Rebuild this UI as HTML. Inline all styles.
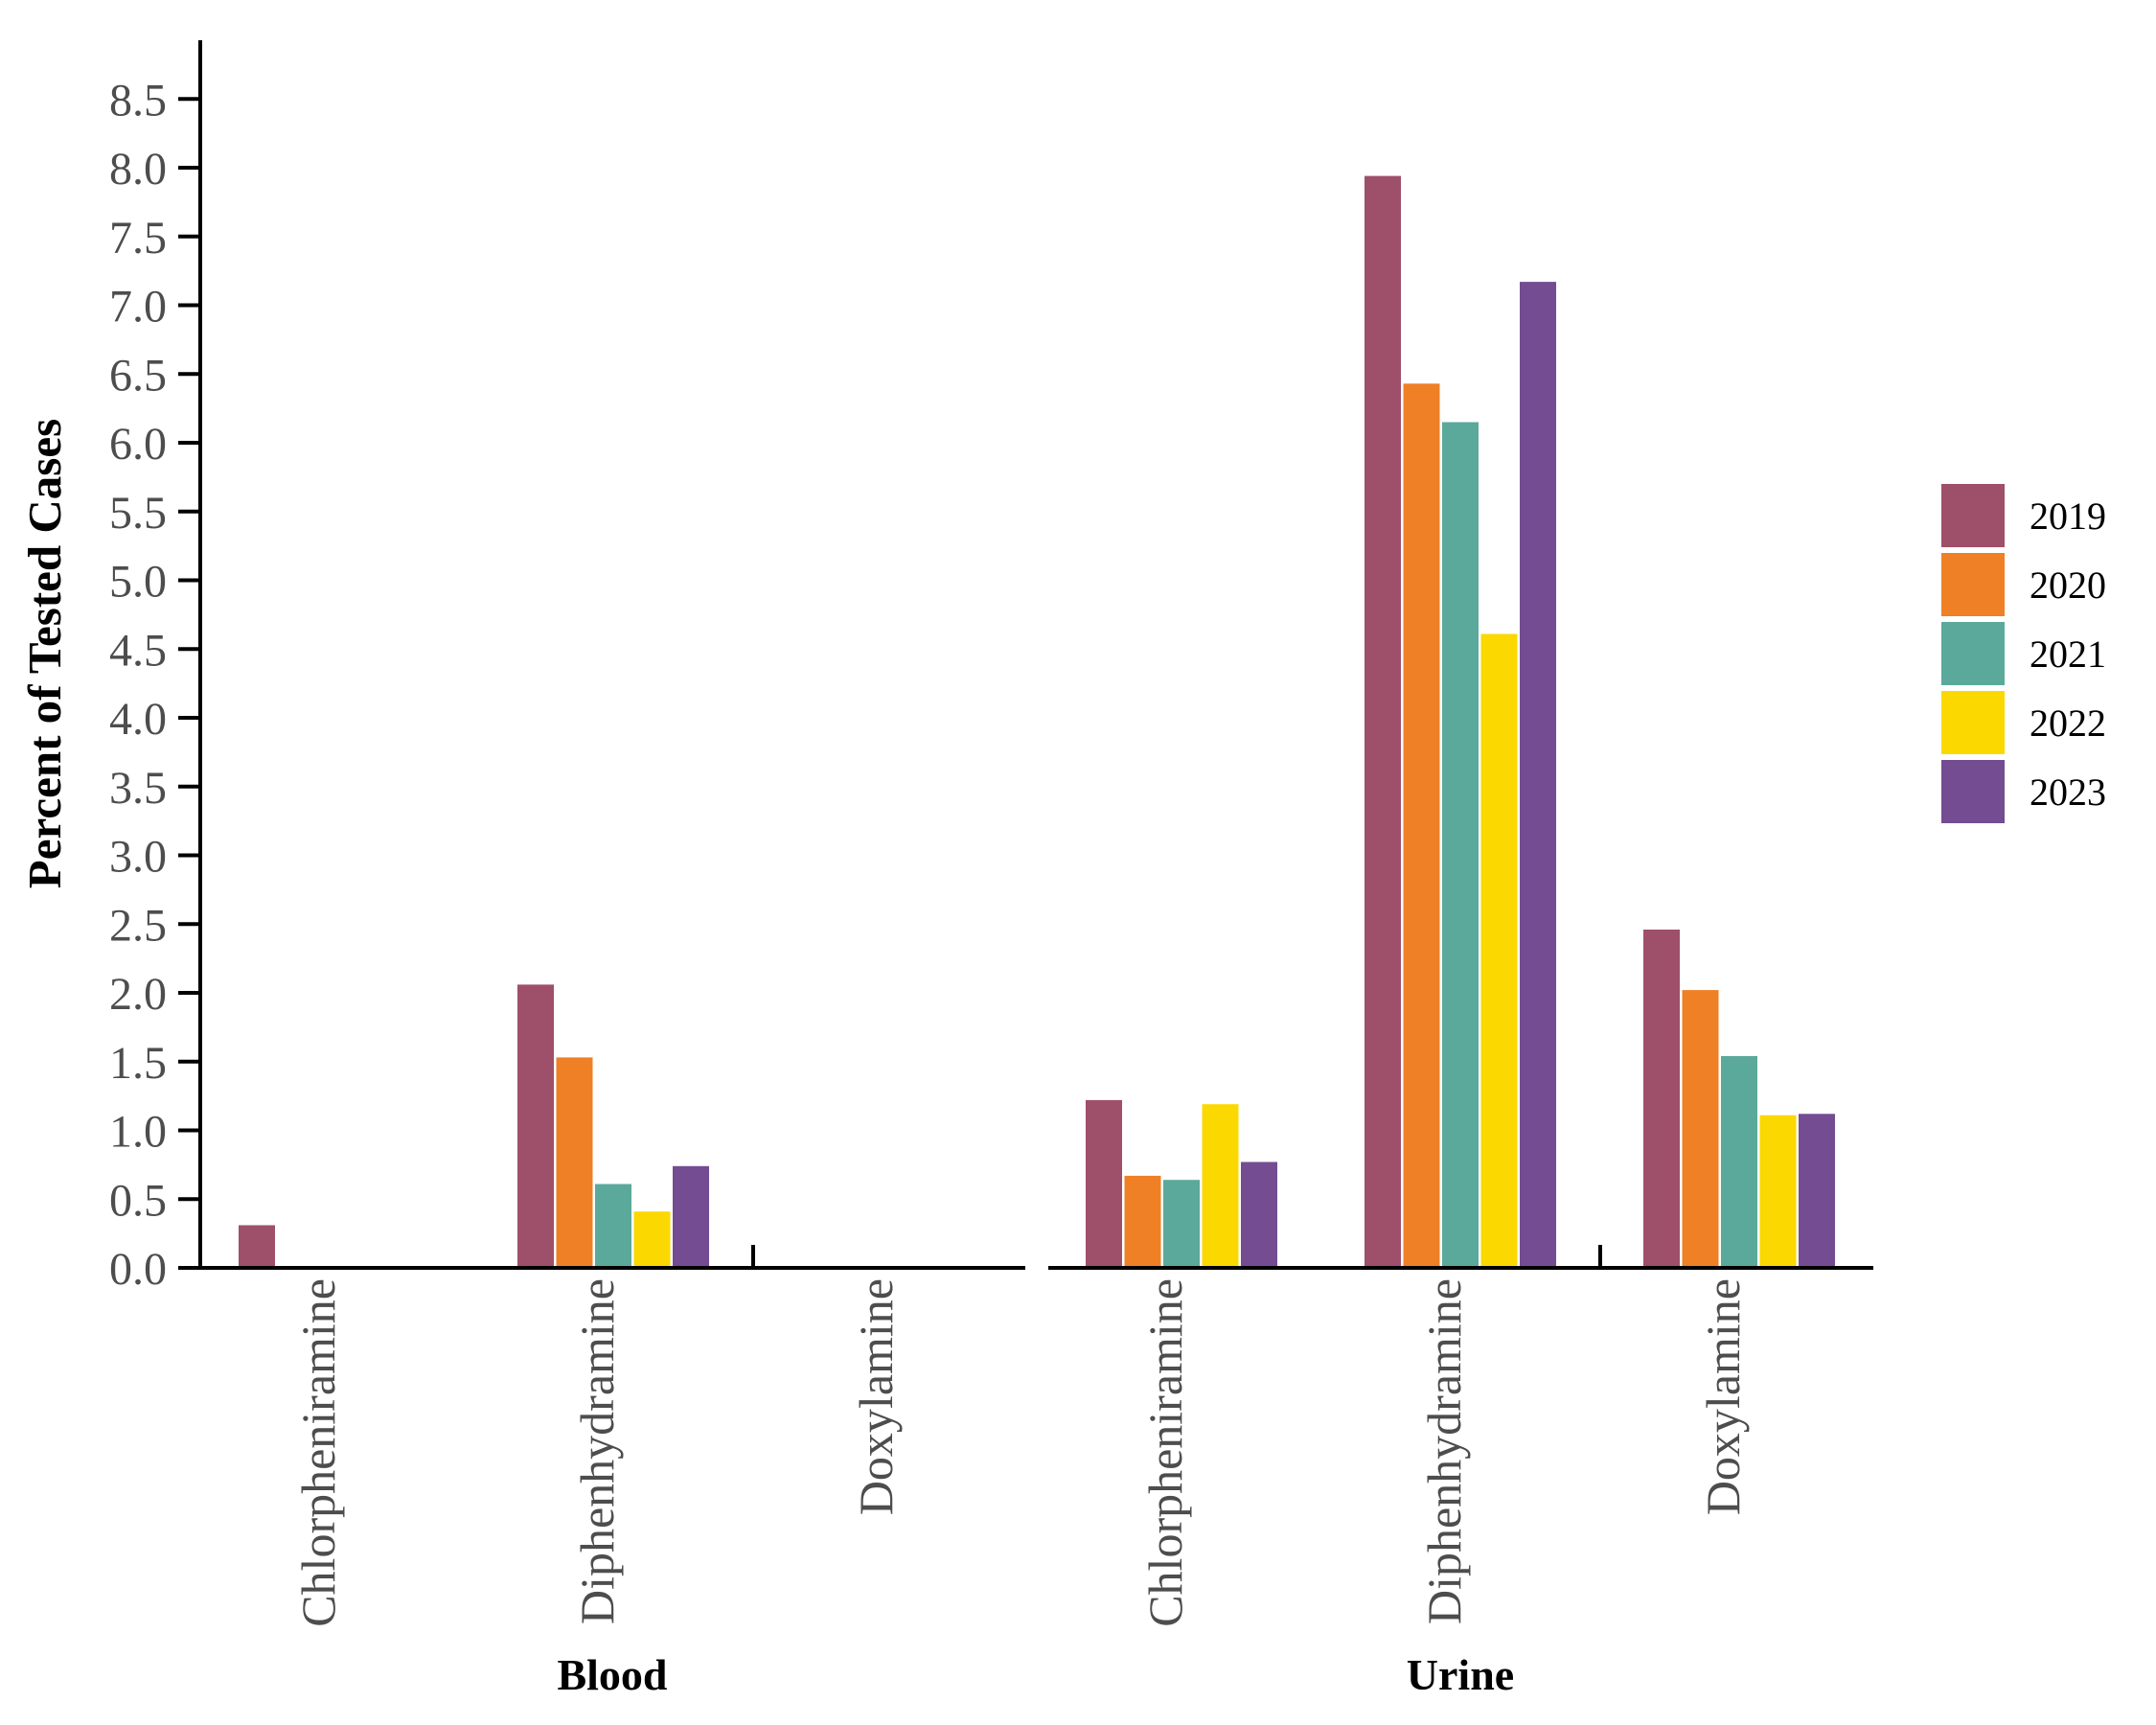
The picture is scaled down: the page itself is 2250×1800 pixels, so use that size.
<!DOCTYPE html>
<html><head><meta charset="utf-8"><style>
html,body{margin:0;padding:0;background:#fff}
svg{display:block}
</style></head><body>
<svg width="2250" height="1800" viewBox="0 0 2250 1800" xmlns="http://www.w3.org/2000/svg">
<rect width="2250" height="1800" fill="#fff"/>
<g font-family="Liberation Serif, serif">
<line x1="209" y1="42" x2="209" y2="1325" stroke="#000" stroke-width="4"/>
<g stroke="#000" stroke-width="4">
<line x1="186" y1="1323" x2="209" y2="1323"/>
<line x1="186" y1="1251.25" x2="209" y2="1251.25"/>
<line x1="186" y1="1179.5" x2="209" y2="1179.5"/>
<line x1="186" y1="1107.75" x2="209" y2="1107.75"/>
<line x1="186" y1="1036" x2="209" y2="1036"/>
<line x1="186" y1="964.25" x2="209" y2="964.25"/>
<line x1="186" y1="892.5" x2="209" y2="892.5"/>
<line x1="186" y1="820.75" x2="209" y2="820.75"/>
<line x1="186" y1="749" x2="209" y2="749"/>
<line x1="186" y1="677.25" x2="209" y2="677.25"/>
<line x1="186" y1="605.5" x2="209" y2="605.5"/>
<line x1="186" y1="533.75" x2="209" y2="533.75"/>
<line x1="186" y1="462" x2="209" y2="462"/>
<line x1="186" y1="390.25" x2="209" y2="390.25"/>
<line x1="186" y1="318.5" x2="209" y2="318.5"/>
<line x1="186" y1="246.75" x2="209" y2="246.75"/>
<line x1="186" y1="175" x2="209" y2="175"/>
<line x1="186" y1="103.25" x2="209" y2="103.25"/>
</g>
<g font-size="48" fill="#4d4d4d" text-anchor="end">
<text x="174" y="1340">0.0</text>
<text x="174" y="1268.25">0.5</text>
<text x="174" y="1196.5">1.0</text>
<text x="174" y="1124.75">1.5</text>
<text x="174" y="1053">2.0</text>
<text x="174" y="981.25">2.5</text>
<text x="174" y="909.5">3.0</text>
<text x="174" y="837.75">3.5</text>
<text x="174" y="766">4.0</text>
<text x="174" y="694.25">4.5</text>
<text x="174" y="622.5">5.0</text>
<text x="174" y="550.75">5.5</text>
<text x="174" y="479">6.0</text>
<text x="174" y="407.25">6.5</text>
<text x="174" y="335.5">7.0</text>
<text x="174" y="263.75">7.5</text>
<text x="174" y="192">8.0</text>
<text x="174" y="120.25">8.5</text>
</g>
<text transform="translate(63,682) rotate(-90)" font-size="49" font-weight="bold" text-anchor="middle" fill="#000">Percent of Tested Cases</text>

<rect x="249" y="1278.5" width="38" height="44.5" fill="#9E4F6A"/>
<rect x="540" y="1027.4" width="38" height="295.6" fill="#9E4F6A"/>
<rect x="580.5" y="1103.4" width="38" height="219.6" fill="#EF8026"/>
<rect x="621" y="1235.5" width="38" height="87.5" fill="#5BA99B"/>
<rect x="661.5" y="1264.2" width="38" height="58.8" fill="#FBD800"/>
<rect x="702" y="1216.8" width="38" height="106.2" fill="#744C91"/>
<rect x="1133" y="1147.9" width="38" height="175.1" fill="#9E4F6A"/>
<rect x="1173.5" y="1226.9" width="38" height="96.1" fill="#EF8026"/>
<rect x="1214" y="1231.2" width="38" height="91.8" fill="#5BA99B"/>
<rect x="1254.5" y="1152.2" width="38" height="170.8" fill="#FBD800"/>
<rect x="1295" y="1212.5" width="38" height="110.5" fill="#744C91"/>
<rect x="1424" y="183.6" width="38" height="1139.4" fill="#9E4F6A"/>
<rect x="1464.5" y="400.3" width="38" height="922.7" fill="#EF8026"/>
<rect x="1505" y="440.5" width="38" height="882.5" fill="#5BA99B"/>
<rect x="1545.5" y="661.5" width="38" height="661.5" fill="#FBD800"/>
<rect x="1586" y="294.1" width="38" height="1028.9" fill="#744C91"/>
<rect x="1715" y="970" width="38" height="353" fill="#9E4F6A"/>
<rect x="1755.5" y="1033.1" width="38" height="289.9" fill="#EF8026"/>
<rect x="1796" y="1102" width="38" height="221" fill="#5BA99B"/>
<rect x="1836.5" y="1163.7" width="38" height="159.3" fill="#FBD800"/>
<rect x="1877" y="1162.3" width="38" height="160.7" fill="#744C91"/>

<line x1="186" y1="1323" x2="1070" y2="1323" stroke="#000" stroke-width="4"/>
<line x1="1094" y1="1323" x2="1955" y2="1323" stroke="#000" stroke-width="4"/>
<line x1="786" y1="1299" x2="786" y2="1323" stroke="#000" stroke-width="4"/>
<line x1="1670" y1="1299" x2="1670" y2="1323" stroke="#000" stroke-width="4"/>

<g font-size="50" fill="#4d4d4d" text-anchor="end">
<text transform="translate(349,1334) rotate(-90)">Chlorpheniramine</text>
<text transform="translate(640,1334) rotate(-90)">Diphenhydramine</text>
<text transform="translate(931,1334) rotate(-90)">Doxylamine</text>
<text transform="translate(1233,1334) rotate(-90)">Chlorpheniramine</text>
<text transform="translate(1524,1334) rotate(-90)">Diphenhydramine</text>
<text transform="translate(1815,1334) rotate(-90)">Doxylamine</text>
</g>
<g font-size="46" font-weight="bold" fill="#000" text-anchor="middle">
<text x="639" y="1763">Blood</text>
<text x="1524" y="1763">Urine</text>
</g>

<rect x="2026" y="505" width="66" height="66" fill="#9E4F6A"/>
<rect x="2026" y="577" width="66" height="66" fill="#EF8026"/>
<rect x="2026" y="649" width="66" height="66" fill="#5BA99B"/>
<rect x="2026" y="721" width="66" height="66" fill="#FBD800"/>
<rect x="2026" y="793" width="66" height="66" fill="#744C91"/>
<g font-size="40" fill="#000">
<text x="2118" y="552">2019</text>
<text x="2118" y="624">2020</text>
<text x="2118" y="696">2021</text>
<text x="2118" y="768">2022</text>
<text x="2118" y="840">2023</text>
</g>
</g>
</svg>
</body></html>
